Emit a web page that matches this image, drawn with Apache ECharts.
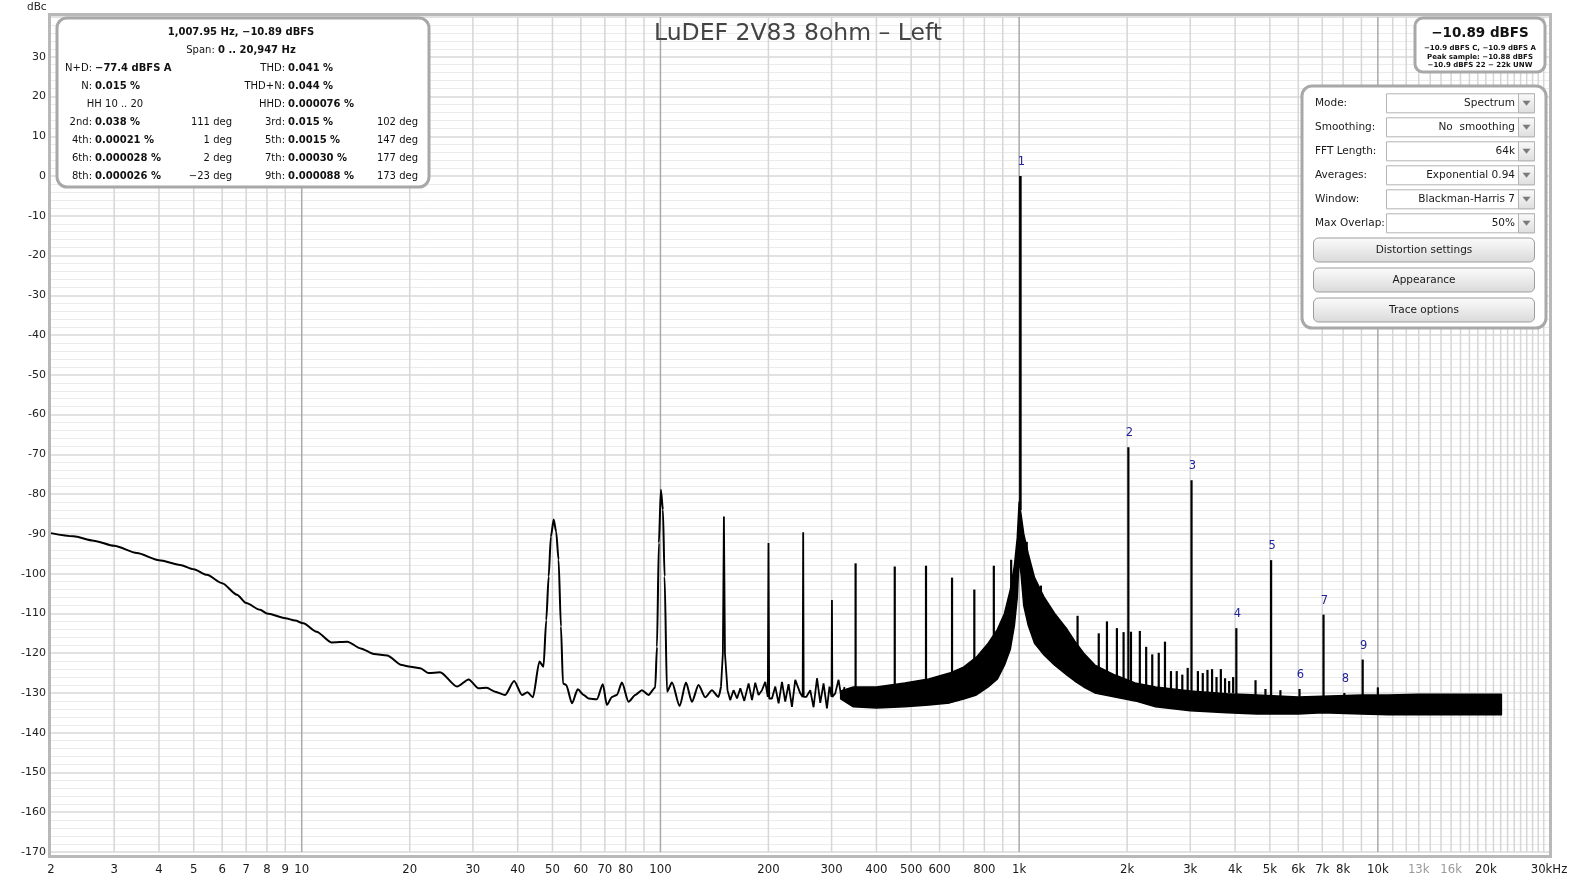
<!DOCTYPE html>
<html>
<head>
<meta charset="utf-8">
<script src="https://cdn.jsdelivr.net/npm/echarts@6.0.0/dist/echarts.min.js"></script>
<style>
html,body{margin:0;padding:0;background:#fff;}
#chart{width:1575px;height:881px;}
</style>
</head>
<body>
<div id="chart"></div>
<script>
// ---------------- DATA ----------------
const title = 'LuDEF 2V83 8ohm – Left';

// smooth low-frequency part of the trace (Hz, dBc)
const lfFreq = [2,2.31,2.63,3,3.47,4,4.58,5,5.44,6,6.6,7,7.66,8,9,9.59,10.1,11,12.1,13.4,14.6,15.9,17.3,19,20.1,21.4,22.6,24.3,27.1,29.2,31.1,32.8,34.6,36.9,39.1,41.1,42.6,44.1,46.0,47.2,48.05,48.8,49.5,50.4,51.2,52.0,52.8,53.5,54.6,56.7,58.8,61.1,63.1,66.5,69.1,70.9,73.3,75.6,78.1,81.5,85.1,88.8,92.6,96.7,97.8,99.0,100.3,101.6,102.7,104.3,107.7,113.1,117.8,122.4,127.7,133.3,139.2,145.2,147.5];
const lfDb   = [-89.8,-90.6,-91.7,-93.0,-94.8,-96.6,-97.8,-98.9,-100.3,-102.4,-105.3,-107.4,-109.1,-110.0,-111.2,-111.8,-112.5,-114.6,-117.3,-117.1,-118.8,-120.2,-120.6,-123.0,-123.4,-123.8,-125.0,-124.8,-128.4,-126.6,-128.8,-128.7,-129.7,-130.5,-127.0,-130.5,-129.8,-131.1,-122.1,-123.4,-111.7,-100.7,-90.7,-86.4,-89.4,-96.5,-113.3,-127.6,-128.0,-132.6,-129.1,-130.5,-131.4,-131.6,-127.8,-133.0,-131.0,-130.5,-127.4,-132.2,-130.5,-129.3,-130.5,-128.6,-118.4,-92.3,-78.9,-83.9,-100.7,-129.7,-127.4,-133.3,-127.4,-132.2,-128.0,-131.1,-129.3,-131.0,-128.4];

// mid part of the trace, zig-zag noise with hum lines (Hz, dBc)
const mfFreq = [147.5,149.3,150.3,151.3,153.8,156.5,159.9,163.5,167.0,171.3,176.1,180.0,183.8,187.7,191.9,196.0,199.2,200.1,201.0,204.6,209.0,213.5,218.2,222.8,227.6,232.6,237.6,245.4,249.2,250.0,250.8,255.0,261.6,267.2,273.2,279.0,284.9,291.2,296.0,300.0,300.7,301.4,307.1,313.7,320.0,326.0];
const mfDb   = [-128.4,-120,-85.6,-120,-129.3,-131.8,-129.3,-131.4,-128.8,-132.0,-127.6,-131.8,-127.4,-130.5,-129.3,-127.2,-131.0,-92.3,-131.4,-131.4,-128.4,-132.6,-127.2,-132.2,-127.8,-133.5,-126.7,-130.1,-131.0,-89.6,-131.0,-131.0,-129.3,-133.6,-126.3,-132.5,-127.6,-133.9,-128.4,-131.0,-106.6,-131.0,-130.1,-126.7,-131.5,-128.5];

// dense noise band: upper and lower envelope (Hz, dBc)
const bandFreq  = [318,345,400,480,560,640,700,760,820,870,910,945,970,988,1000,1012,1030,1060,1104,1175,1256,1360,1429,1514,1626,1850,2105,2400,3000,3800,4600,6000,7000,9000,10700,13000,16000,19000,22100];
const bandUpper = [-129.5,-128.5,-128.5,-127.5,-126.5,-125,-123.5,-121,-117.5,-114,-110,-104,-98,-91,-82,-85,-90,-95,-101,-106,-110,-114,-117,-120,-123,-125.5,-127.5,-128.5,-129.5,-130.2,-130.5,-131,-130.8,-130.5,-130.5,-130.3,-130.3,-130.3,-130.3];
const bandLower = [-131.5,-133.5,-133.8,-133.5,-133,-132.5,-131.5,-130.5,-128.5,-126.5,-123,-119,-113,-106,-96,-100,-108,-113,-117.5,-120.5,-123,-125.5,-127,-128.5,-130,-131,-132,-133.5,-134.5,-135,-135.3,-135.3,-135,-135.3,-135.5,-135.5,-135.5,-135.5,-135.5];

// narrow spectral lines above the noise (Hz, peak dBc, foot dBc)
const spikeFreq = [350,450,550,650,750,850,950,1008,1050,1150,1455,1667,1757,1873,1955,2016,2050,2170,2260,2350,2450,2550,2650,2750,2850,2950,3024,3150,3250,3350,3450,3550,3650,3750,3850,3950,4032,4560,4860,5040,5350,6048,7056,8064,9072,10000];
const spikeDb   = [-97.4,-98.2,-98,-101,-104,-98,-96.5,0,-92,-103,-110.6,-115,-112,-113.7,-114.7,-68.2,-114.6,-114.4,-118.4,-120.3,-119.9,-117.1,-124.5,-124.5,-125.4,-123.7,-76.5,-124.5,-125,-124.2,-124,-126,-124,-126.3,-127,-126,-113.7,-126.8,-129,-96.6,-129.3,-129,-110.3,-130,-121.6,-128.6];
const spikeFoot = [-129,-129,-128,-126,-122,-116,-104,-84,-95,-106,-121,-124,-125,-126,-127,-128,-127,-128,-128,-129,-129,-129,-129,-130,-130,-130,-130,-130,-130,-130,-130,-130,-130,-130,-130,-130,-131,-131,-131,-131,-131,-131,-131,-131,-131,-131];

// harmonic markers
const harmFreq   = [1008,2016,3024,4032,5040,6048,7056,8064,9072];
const harmDb     = [0,-68.2,-76.5,-113.7,-96.6,-129,-110.3,-130,-121.6];
const harmLabels = ['1','2','3','4','5','6','7','8','9'];

// x axis ticks
const xTickValues = [2,3,4,5,6,7,8,9,10,20,30,40,50,60,70,80,100,200,300,400,500,600,800,1000,2000,3000,4000,5000,6000,7000,8000,10000,13000,16000,20000,30000];
const xTickLabels = ['2','3','4','5','6','7','8','9','10','20','30','40','50','60','70','80','100','200','300','400','500','600','800','1k','2k','3k','4k','5k','6k','7k','8k','10k','13k','16k','20k','30kHz'];
const xTickMuted  = ['13k','16k'];

// vertical grid lines
const gridFreqs = [3,4,5,6,7,8,9,10,20,30,40,50,60,70,80,90,100,200,300,400,500,600,700,800,900,1000,2000,3000,4000,5000,6000,7000,8000,9000,10000,11000,12000,13000,14000,15000,16000,17000,18000,19000,20000,21000,22000,23000,24000,25000,26000,27000,28000,29000];
const decadeFreqs = [10,100,1000,10000];

// ---------------- CHART ----------------
const Y_MIN = -170, Y_MAX = 40;
const chart = echarts.init(document.getElementById('chart'), null, {renderer:'canvas'});
const UI = 'DejaVu Sans';

function lineEl(a, b, stroke, w){
  return {type:'line', shape:{x1:a[0],y1:a[1],x2:b[0],y2:b[1]}, style:{stroke:stroke, lineWidth:w}};
}

const infoRows = [32,50,68,86,104,122,140,158,176];
function txt(x, y, text, align, bold, size, color){
  return {type:'text', x:x, y:y, z:110, style:{text:text, align:align||'left', verticalAlign:'middle',
    font:(bold?'bold ':'')+(size||10)+'px "'+UI+'"', fill:color||'#111'}};
}
const infoLeft = [
  ['N+D:','−77.4 dBFS A'],['N:','0.015 %'],null,['2nd:','0.038 %'],['4th:','0.00021 %'],['6th:','0.000028 %'],['8th:','0.000026 %']
];
const infoRight = [
  ['THD:','0.041 %'],['THD+N:','0.044 %'],['HHD:','0.000076 %'],['3rd:','0.015 %'],['5th:','0.0015 %'],['7th:','0.00030 %'],['9th:','0.000088 %']
];
const degLeft  = ['111 deg','1 deg','2 deg','−23 deg'];
const degRight = ['102 deg','147 deg','177 deg','173 deg'];

const graphics = [];
graphics.push({type:'rect', z:50, shape:{x:49.5,y:14.5,width:1501,height:842}, style:{fill:null, stroke:'#b9b9b9', lineWidth:3}});
graphics.push(txt(27, 7.5, 'dBc', 'left', false, 10.5, '#222'));
graphics.push({type:'text', x:798, y:34, z:60, style:{text:title, align:'center', verticalAlign:'middle', font:'23.5px "'+UI+'"', fill:'#444'}});
graphics.push({type:'rect', z:100, shape:{x:57,y:18,width:372,height:169,r:10}, style:{fill:'#fff', stroke:'#a8a8a8', lineWidth:3}});
graphics.push({type:'text', x:241, y:infoRows[0], z:110, style:{text:'1,007.95 Hz, −10.89 dBFS', align:'center', verticalAlign:'middle', font:'bold 10px "'+UI+'"', fill:'#111'}});
graphics.push({type:'text', x:241, y:infoRows[1], z:110, style:{text:'{r|Span: }{b|0 .. 20,947 Hz}', align:'center', verticalAlign:'middle',
  rich:{r:{font:'10px "'+UI+'"', fill:'#111'}, b:{font:'bold 10px "'+UI+'"', fill:'#111'}}}});
for (let i=0;i<7;i++){
  const y = infoRows[i+2];
  if (infoLeft[i]){ graphics.push(txt(92,y,infoLeft[i][0],'right')); graphics.push(txt(95,y,infoLeft[i][1],'left',true)); }
  graphics.push(txt(285,y,infoRight[i][0],'right')); graphics.push(txt(288,y,infoRight[i][1],'left',true));
}
graphics.push(txt(115,infoRows[4],'HH 10 .. 20','center'));
for (let i=0;i<4;i++){
  graphics.push(txt(232,infoRows[5+i],degLeft[i],'right'));
  graphics.push(txt(418,infoRows[5+i],degRight[i],'right'));
}
graphics.push({type:'rect', z:100, shape:{x:1415,y:18,width:130,height:54,r:8}, style:{fill:'#fff', stroke:'#a8a8a8', lineWidth:3}});
graphics.push(txt(1480,33,'−10.89 dBFS','center',true,13.5,'#111'));
graphics.push(txt(1480,48.5,'−10.9 dBFS C, −10.9 dBFS A','center',true,7,'#111'));
graphics.push(txt(1480,57,'Peak sample: −10.88 dBFS','center',true,7,'#111'));
graphics.push(txt(1480,65.5,'−10.9 dBFS 22 − 22k UNW','center',true,7,'#111'));
graphics.push({type:'rect', z:100, shape:{x:1302,y:86,width:244,height:242,r:10}, style:{fill:'#fff', stroke:'#a8a8a8', lineWidth:3}});
const ctlLabels = ['Mode:','Smoothing:','FFT Length:','Averages:','Window:','Max Overlap:'];
const ctlValues = ['Spectrum','No  smoothing','64k','Exponential 0.94','Blackman-Harris 7','50%'];
for (let i=0;i<6;i++){
  const y = 103.3 + 24*i;
  graphics.push(txt(1315,y,ctlLabels[i],'left',false,10.5,'#1a1a1a'));
  graphics.push({type:'rect', z:105, shape:{x:1386.5,y:y-9.5,width:148,height:19}, style:{fill:'#fff', stroke:'#b4b4b4', lineWidth:1}});
  graphics.push({type:'rect', z:106, shape:{x:1518.5,y:y-9.5,width:16,height:19}, style:{fill:new echarts.graphic.LinearGradient(0,0,0,1,[{offset:0,color:'#fafafa'},{offset:1,color:'#dedede'}]), stroke:'#b4b4b4', lineWidth:1}});
  graphics.push({type:'polygon', z:107, shape:{points:[[1522.5,y-2.5],[1530.5,y-2.5],[1526.5,y+2.5]]}, style:{fill:'#7a7a7a'}});
  graphics.push(txt(1515,y,ctlValues[i],'right',false,10.5,'#1a1a1a'));
}
const btnLabels = ['Distortion settings','Appearance','Trace options'];
const btnTops = [238,268,298];
for (let i=0;i<3;i++){
  graphics.push({type:'rect', z:105, shape:{x:1313.5,y:btnTops[i],width:221,height:24,r:5},
    style:{fill:new echarts.graphic.LinearGradient(0,0,0,1,[{offset:0,color:'#fcfcfc'},{offset:1,color:'#d9d9d9'}]), stroke:'#9c9c9c', lineWidth:1}});
  graphics.push(txt(1424,btnTops[i]+12,btnLabels[i],'center',false,10.5,'#1a1a1a'));
}

const option = {
  animation:false,
  backgroundColor:'#fff',
  grid:{left:51, right:26, top:17, bottom:29, show:false},
  xAxis:{type:'log', logBase:10, min:2, max:30000,
    axisLine:{show:false}, axisTick:{show:false}, axisLabel:{show:false}, splitLine:{show:false}},
  yAxis:{type:'value', min:Y_MIN, max:Y_MAX, interval:10,
    axisLine:{show:false}, axisTick:{show:false},
    axisLabel:{color:'#222', fontSize:11, fontFamily:UI, margin:5, formatter:v => v===Y_MAX ? '' : String(v)},
    splitLine:{show:true, lineStyle:{color:'#d8d8d8', width:1.5}},
    minorTick:{show:false, splitNumber:5},
    minorSplitLine:{show:true, lineStyle:{color:'#ebebeb', width:1}}},
  graphic:graphics,
  series:[
    {
      type:'custom', z:1, silent:true,
      data:gridFreqs.map(f => [f, Y_MIN]),
      renderItem:(params, api) => {
        const f = api.value(0);
        const major = decadeFreqs.indexOf(f) >= 0;
        return lineEl(api.coord([f, Y_MAX]), api.coord([f, Y_MIN]), major ? '#a9a9a9' : '#d6d6d6', 1.5);
      }
    },
    {
      type:'custom', z:5, silent:true, clip:false,
      data:xTickValues.map(f => [f, Y_MIN]),
      renderItem:(params, api) => {
        const c = api.coord([api.value(0), Y_MIN]);
        const lab = xTickLabels[params.dataIndex];
        return {type:'text', x:c[0], y:c[1]+17.5, style:{text:lab, align:'center', verticalAlign:'middle',
          font:'13px "DejaVu Sans Condensed"', fill: xTickMuted.indexOf(lab) >= 0 ? '#9a9a9a' : '#1a1a1a'}};
      }
    },
    {
      type:'custom', z:3, silent:true,
      data:[[bandFreq[0], bandUpper[0]]],
      renderItem:(params, api) => {
        const pts = [];
        for (let i=0;i<bandFreq.length;i++) pts.push(api.coord([bandFreq[i], bandUpper[i]]));
        for (let i=bandFreq.length-1;i>=0;i--) pts.push(api.coord([bandFreq[i], bandLower[i]]));
        return {type:'polygon', shape:{points:pts}, style:{fill:'#000', stroke:'#000', lineWidth:1.5, lineJoin:'round'}};
      }
    },
    {
      type:'line', z:3, silent:true, showSymbol:false, smooth:0.25, smoothMonotone:'x',
      data:lfFreq.map((f,i) => [f, lfDb[i]]),
      lineStyle:{color:'#000', width:2}
    },
    {
      type:'line', z:3, silent:true, showSymbol:false,
      data:mfFreq.map((f,i) => [f, mfDb[i]]),
      lineStyle:{color:'#000', width:1.8}
    },
    {
      type:'custom', z:3, silent:true,
      data:spikeFreq.map((f,i) => [f, spikeDb[i], spikeFoot[i]]),
      renderItem:(params, api) => {
        const f = api.value(0), v = api.value(1), foot = api.value(2);
        return lineEl(api.coord([f, v]), api.coord([f, foot]), '#000', v === 0 ? 2.6 : 2.2);
      }
    },
    {
      type:'custom', z:6, silent:true, clip:false,
      data:harmFreq.map((f,i) => [f, harmDb[i]]),
      renderItem:(params, api) => {
        const c = api.coord([api.value(0), api.value(1)]);
        return {type:'text', x:c[0]+1, y:c[1]-14, style:{text:harmLabels[params.dataIndex], align:'center', verticalAlign:'middle',
          font:'11.5px "'+UI+'"', fill:'#23239a'}};
      }
    }
  ]
};
chart.setOption(option);
</script>
</body>
</html>
